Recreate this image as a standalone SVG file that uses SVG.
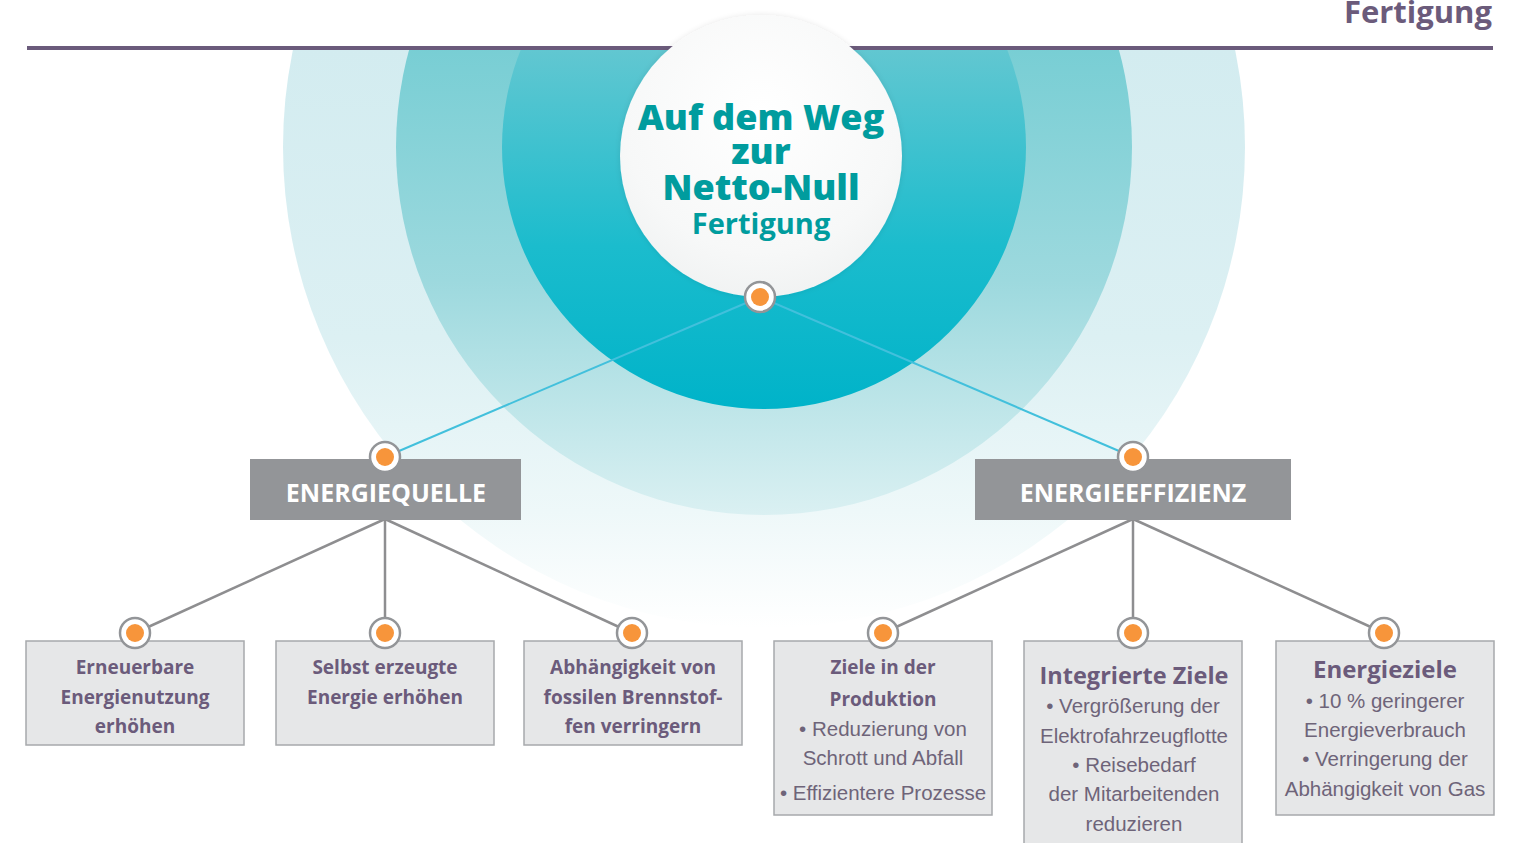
<svg xmlns="http://www.w3.org/2000/svg" width="1513" height="843" viewBox="0 0 1513 843">
<defs>
<style>
.t{font-family:"Open Sans",Lato,"Liberation Sans",sans-serif;font-weight:700;text-anchor:middle}
.ttl{fill:#009c9e;font-weight:800}
.hdr{fill:#ffffff;font-size:25px}
.bt{fill:#6b5b7b;font-size:19px}
.bh{fill:#6b5b7b;font-size:24px}
.rg{font-family:"Liberation Sans",Arial,sans-serif;font-weight:400;fill:#6e6479;font-size:20.5px;text-anchor:middle}
.box{fill:#e6e7e8;stroke:#a7a9ac;stroke-width:1.5}
.hbox{fill:#939598}
.dotO{fill:#ffffff;stroke:#939598;stroke-width:2.5}
.dotI{fill:#f7953b}
.gl{stroke:#8e8e90;stroke-width:2.5;fill:none}
.bl{stroke:#42c0dc;stroke-width:2;fill:none}
</style>
<linearGradient id="gOuter" gradientUnits="userSpaceOnUse" x1="0" y1="48" x2="0" y2="628">
<stop offset="0" stop-color="#d3ecf0"/>
<stop offset="0.5" stop-color="#dcf0f3"/>
<stop offset="0.8" stop-color="#eef8f9"/>
<stop offset="1" stop-color="#ffffff"/>
</linearGradient>
<linearGradient id="gMid" gradientUnits="userSpaceOnUse" x1="0" y1="48" x2="0" y2="515">
<stop offset="0" stop-color="#78ced4"/>
<stop offset="0.5" stop-color="#9dd9de"/>
<stop offset="1" stop-color="#daf0f2"/>
</linearGradient>
<linearGradient id="gDark" gradientUnits="userSpaceOnUse" x1="0" y1="48" x2="0" y2="409">
<stop offset="0" stop-color="#62c7d1"/>
<stop offset="0.55" stop-color="#1bbccd"/>
<stop offset="1" stop-color="#00b3c9"/>
</linearGradient>
<radialGradient id="gWhite" cx="0.5" cy="0.35" r="0.7">
<stop offset="0" stop-color="#ffffff"/>
<stop offset="0.7" stop-color="#f7f8f8"/>
<stop offset="1" stop-color="#eff1f1"/>
</radialGradient>
<clipPath id="below"><rect x="0" y="48" width="1513" height="795"/></clipPath>
<filter id="sh" x="-20%" y="-20%" width="140%" height="140%">
<feGaussianBlur in="SourceAlpha" stdDeviation="3"/>
<feComponentTransfer><feFuncA type="linear" slope="0.1"/></feComponentTransfer>
<feMerge><feMergeNode/><feMergeNode in="SourceGraphic"/></feMerge>
</filter>
</defs>

<g id="background">
<g clip-path="url(#below)">
<circle cx="764" cy="147" r="481" fill="url(#gOuter)"/>
<circle cx="764" cy="147" r="368" fill="url(#gMid)"/>
<circle cx="764" cy="147" r="262" fill="url(#gDark)"/>
</g>
<line x1="27" y1="48" x2="1493" y2="48" stroke="#6b5b7b" stroke-width="4"/>
<text x="1492" y="23" class="t" style="fill:#6b5b7b;font-size:31px;text-anchor:end">Fertigung</text>
</g>

<g id="center">
<circle cx="761" cy="156" r="141" fill="url(#gWhite)" filter="url(#sh)"/>
<text class="t ttl" x="761" y="130" font-size="36">Auf dem Weg</text>
<text class="t ttl" x="761" y="164" font-size="36">zur</text>
<text class="t ttl" x="761" y="200" font-size="36">Netto-Null</text>
<text class="t ttl" x="761" y="234" font-size="29" style="font-weight:700">Fertigung</text>
</g>

<g id="connectors">
<line class="bl" x1="760" y1="297" x2="385" y2="457"/>
<line class="bl" x1="760" y1="297" x2="1133" y2="457"/>
<line class="gl" x1="385" y1="519" x2="135" y2="633"/>
<line class="gl" x1="385" y1="519" x2="385" y2="633"/>
<line class="gl" x1="385" y1="519" x2="632" y2="633"/>
<line class="gl" x1="1133" y1="519" x2="883" y2="633"/>
<line class="gl" x1="1133" y1="519" x2="1133" y2="633"/>
<line class="gl" x1="1133" y1="519" x2="1384" y2="633"/>
</g>

<g id="dot-center">
<circle class="dotO" cx="760" cy="297" r="15"/>
<circle class="dotI" cx="760" cy="297" r="9"/>
</g>

<g id="node-energiequelle">
<rect class="hbox" x="250" y="459" width="271" height="61"/>
<text class="t hdr" x="386" y="502">ENERGIEQUELLE</text>
<circle class="dotO" cx="385" cy="457" r="15"/>
<circle class="dotI" cx="385" cy="457" r="9"/>
</g>

<g id="node-energieeffizienz">
<rect class="hbox" x="975" y="459" width="316" height="61"/>
<text class="t hdr" x="1133" y="502">ENERGIEEFFIZIENZ</text>
<circle class="dotO" cx="1133" cy="457" r="15"/>
<circle class="dotI" cx="1133" cy="457" r="9"/>
</g>

<g id="node-erneuerbare">
<rect class="box" x="26" y="641" width="218" height="104"/>
<text class="t bt" x="135" y="674">Erneuerbare</text>
<text class="t bt" x="135" y="704">Energienutzung</text>
<text class="t bt" x="135" y="733">erhöhen</text>
<circle class="dotO" cx="135" cy="633" r="15"/>
<circle class="dotI" cx="135" cy="633" r="9"/>
</g>

<g id="node-selbst">
<rect class="box" x="276" y="641" width="218" height="104"/>
<text class="t bt" x="385" y="674">Selbst erzeugte</text>
<text class="t bt" x="385" y="704">Energie erhöhen</text>
<circle class="dotO" cx="385" cy="633" r="15"/>
<circle class="dotI" cx="385" cy="633" r="9"/>
</g>

<g id="node-fossil">
<rect class="box" x="524" y="641" width="218" height="104"/>
<text class="t bt" x="633" y="674">Abhängigkeit von</text>
<text class="t bt" x="633" y="704">fossilen Brennstof-</text>
<text class="t bt" x="633" y="733">fen verringern</text>
<circle class="dotO" cx="632" cy="633" r="15"/>
<circle class="dotI" cx="632" cy="633" r="9"/>
</g>

<g id="node-produktion">
<rect class="box" x="774" y="641" width="218" height="174"/>
<text class="t bt" x="883" y="674">Ziele in der</text>
<text class="t bt" x="883" y="706">Produktion</text>
<text class="rg" x="883" y="736">• Reduzierung von</text>
<text class="rg" x="883" y="765">Schrott und Abfall</text>
<text class="rg" x="883" y="800">• Effizientere Prozesse</text>
<circle class="dotO" cx="883" cy="633" r="15"/>
<circle class="dotI" cx="883" cy="633" r="9"/>
</g>

<g id="node-integrierte">
<rect class="box" x="1024" y="641" width="218" height="210"/>
<text class="t bh" x="1134" y="684" style="font-size:23.5px">Integrierte Ziele</text>
<text class="rg" x="1133" y="713">• Vergrößerung der</text>
<text class="rg" x="1134" y="743">Elektrofahrzeugflotte</text>
<text class="rg" x="1134" y="772">• Reisebedarf</text>
<text class="rg" x="1134" y="801">der Mitarbeitenden</text>
<text class="rg" x="1134" y="831">reduzieren</text>
<circle class="dotO" cx="1133" cy="633" r="15"/>
<circle class="dotI" cx="1133" cy="633" r="9"/>
</g>

<g id="node-energieziele">
<rect class="box" x="1276" y="641" width="218" height="174"/>
<text class="t bh" x="1385" y="678">Energieziele</text>
<text class="rg" x="1385" y="708">• 10 % geringerer</text>
<text class="rg" x="1385" y="737">Energieverbrauch</text>
<text class="rg" x="1385" y="766">• Verringerung der</text>
<text class="rg" x="1385" y="796">Abhängigkeit von Gas</text>
<circle class="dotO" cx="1384" cy="633" r="15"/>
<circle class="dotI" cx="1384" cy="633" r="9"/>
</g>
</svg>
